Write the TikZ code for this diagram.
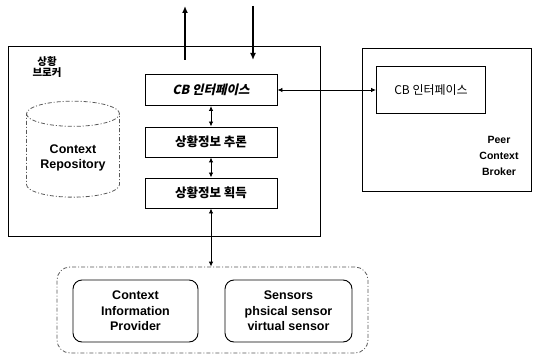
\documentclass[tikz,border=0pt]{standalone}
\usepackage{fontspec}
\setmainfont{Liberation Sans}
\newfontfamily\kr{Noto Sans CJK KR}
\newfontfamily\krit[FakeSlant=0.22,BoldFeatures={FakeSlant=0.22}]{Noto Sans CJK KR}
\usetikzlibrary{arrows.meta,shapes.geometric}
\tikzset{
  box/.style={draw, line width=0.9pt, inner sep=0pt},
  inbox/.style={box, minimum width=132pt, font=\kr\bfseries\fontsize{12.5}{14}\selectfont},
  dbl/.style={{Latex[length=5pt,width=4.5pt]}-{Latex[length=5pt,width=4.5pt]}, line width=0.9pt},
  thick arrow/.style={-{Latex[length=7pt,width=6pt]}, line width=2pt},
  dashbox/.style={draw=gray!70!black, line width=0.8pt, dash pattern=on 4pt off 2pt on 1pt off 2pt},
  srcbox/.style={draw, line width=0.9pt, rounded corners=9pt, align=center, inner sep=0pt,
    font=\bfseries\fontsize{12.5}{15.5}\selectfont},
}
\begin{document}
\begin{tikzpicture}[x=1pt,y=-1pt]
\useasboundingbox (0,0) rectangle (534,355);
% main broker box
\node[box, minimum width=312pt, minimum height=190pt, anchor=north west] (main) at (8,46) {};
\node[align=center, font=\kr\bfseries\fontsize{10.5}{11.5}\selectfont] (lbl) at (47,67) {상황\\브로커};
% inner boxes
\node[inbox, minimum height=31pt, font=\krit\bfseries\fontsize{12.5}{14}\selectfont] (cb) at (211,90) {CB 인터페이스};
\node[inbox, minimum height=30pt] (inf) at (211,142) {상황정보 추론};
\node[inbox, minimum height=30pt] (acq) at (211,193) {상황정보 획득};
% repository
\node[cylinder, shape border rotate=90, aspect=0.35, minimum width=93pt, minimum height=96pt,
  dashbox, text=black, align=center, font=\bfseries\fontsize{12.5}{14.5}\selectfont] (repo) at (73,158) {Context\\Repository};
% peer
\node[box, minimum width=169pt, minimum height=143pt, anchor=north west] (peer) at (362,48) {};
\node[box, minimum width=109pt, minimum height=47pt, font=\kr\fontsize{12}{13}\selectfont] (pcb) at (431,90) {CB 인터페이스};
\node[align=center, font=\fontsize{10.5}{16}\selectfont\bfseries] (ptxt) at (499,156) {Peer\\Context\\Broker};
% bottom
\node[dashbox, rounded corners=13pt, minimum width=311pt, minimum height=86pt] (ext) at (212.5,310) {};
\node[srcbox, minimum width=125pt, minimum height=62pt] (cip) at (135.5,311) {Context\\Information\\Provider};
\node[srcbox, minimum width=127pt, minimum height=62pt] (sens) at (288.5,311) {Sensors\\phsical sensor\\virtual sensor};
% arrows
\coordinate (u1) at (185,60);
\coordinate (u2) at (185,6);
\coordinate (d1) at (253,6);
\coordinate (d2) at (253,60);
\draw[thick arrow] (u1) -- (u2);
\draw[thick arrow] (d1) -- (d2);
\draw[dbl] (cb.south) -- (inf.north);
\draw[dbl] (inf.south) -- (acq.north);
\draw[dbl] (acq.south) -- (ext.north -| acq.south);
\draw[dbl] (cb.east) -- (pcb.west);
\end{tikzpicture}
\end{document}
